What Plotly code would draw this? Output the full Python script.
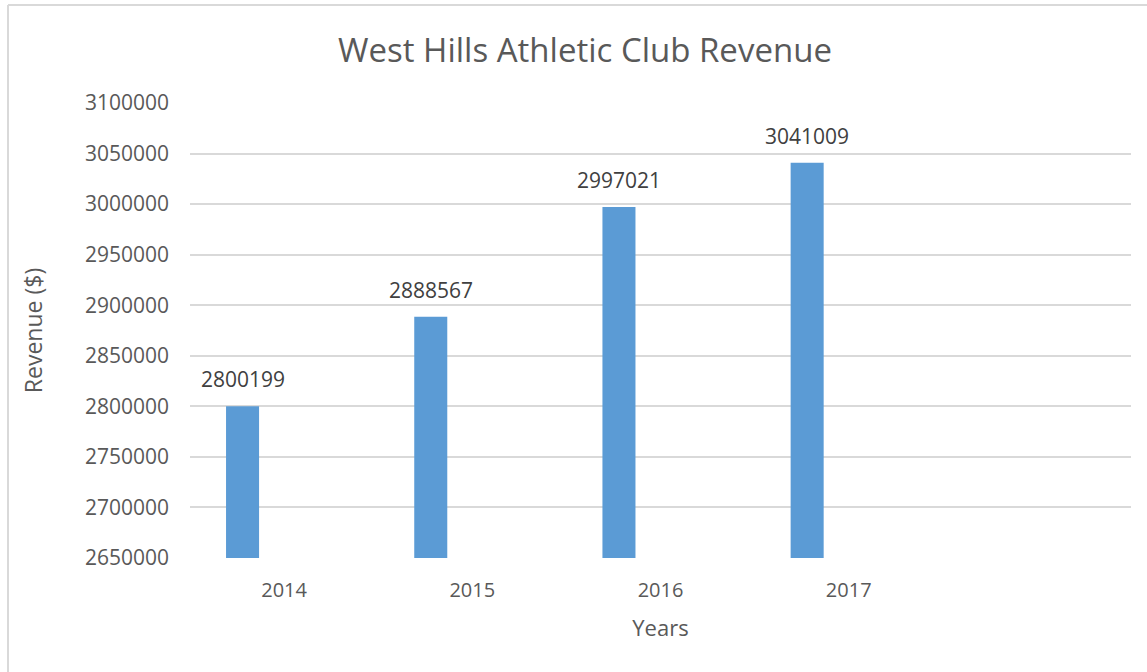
import plotly.graph_objects as go

years = ["2014", "2015", "2016", "2017"]
revenue = [2800199, 2888567, 2997021, 3041009]

FONT = "Open Sans"
TXT = "#595959"
pos = list(range(len(years)))

fig = go.Figure()
fig.add_trace(go.Bar(
    x=pos, y=revenue,
    width=0.1755, offset=-0.3085,
    marker=dict(color="#5B9BD5", line=dict(width=0)),
    showlegend=False, hoverinfo="skip",
))

for p, v in zip(pos, revenue):
    fig.add_annotation(x=p - 0.3085 + 0.1755 / 2, y=v, text=str(v), showarrow=False,
                       yanchor="bottom", yshift=11,
                       font=dict(family=FONT, size=21, color="#404040"))

fig.update_layout(
    width=1147, height=672,
    margin=dict(l=190, r=16, t=103, b=114),
    paper_bgcolor="white", plot_bgcolor="white",
    title=dict(text="West Hills Athletic Club Revenue", x=0.51, xanchor="center",
               y=1 - 50 / 672, yanchor="middle",
               font=dict(family=FONT, size=33, color=TXT)),
    xaxis=dict(range=[-0.5, 4.5], tickvals=pos, ticktext=years, showgrid=False,
               zeroline=False, showline=False, ticks="", ticklabelstandoff=18,
               tickfont=dict(family=FONT, size=20, color=TXT),
               title=dict(text="Years", standoff=18, font=dict(family=FONT, size=22, color=TXT))),
    yaxis=dict(range=[2650000, 3100000], dtick=50000, tickformat="d",
               showgrid=True, gridcolor="#D9D9D9", gridwidth=2, zeroline=False,
               showline=False, ticks="", ticklabelstandoff=20,
               tickfont=dict(family=FONT, size=21, color=TXT),
               title=dict(text="Revenue ($)", standoff=35, font=dict(family=FONT, size=23, color=TXT))),
    shapes=[
        dict(type="line", xref="paper", yref="paper",
             x0=(8 - 190) / 941, x1=(1147 - 190) / 941, y0=(558 - 5) / 455, y1=(558 - 5) / 455,
             line=dict(color="#D9D9D9", width=2)),
        dict(type="line", xref="paper", yref="paper",
             x0=(8 - 190) / 941, x1=(8 - 190) / 941, y0=(558 - 5) / 455, y1=(558 - 680) / 455,
             line=dict(color="#D9D9D9", width=2)),
    ],
)

fig.write_html("out.html")
